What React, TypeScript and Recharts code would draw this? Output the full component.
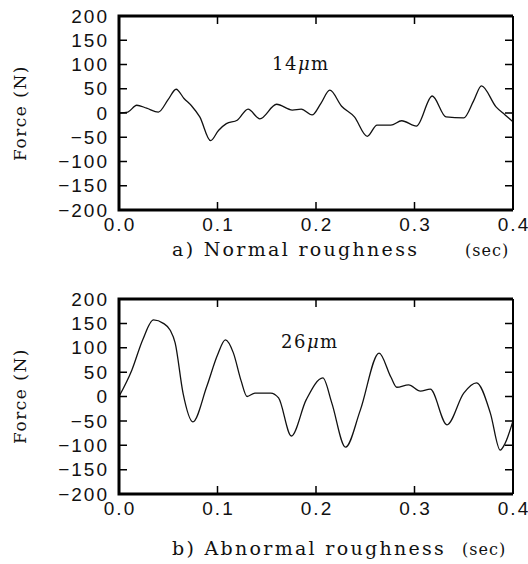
import React from 'react';
import { Line, LineChart, XAxis, YAxis } from 'recharts';

// time (sec) and force (N)
const topTime = [0, 0.009, 0.018, 0.028, 0.04, 0.05, 0.058, 0.066, 0.074, 0.082, 0.093, 0.101, 0.109, 0.12, 0.131, 0.143, 0.16, 0.176, 0.185, 0.196, 0.205, 0.214, 0.226, 0.239, 0.252, 0.262, 0.276, 0.287, 0.302, 0.318, 0.332, 0.35, 0.36, 0.368, 0.383, 0.392, 0.4];
const topForce = [0, 2, 16, 10, 2, 28, 49, 30, 14, -8, -57, -36, -22, -15, 8, -12, 18, 6, 8, -4, 20, 47, 14, -8, -48, -25, -25, -16, -27, 35, -8, -10, 25, 56, 12, -4, -18];

const bottomTime = [0, 0.013, 0.024, 0.035, 0.045, 0.052, 0.057, 0.065, 0.075, 0.089, 0.1, 0.108, 0.116, 0.124, 0.13, 0.138, 0.154, 0.162, 0.175, 0.19, 0.207, 0.216, 0.23, 0.245, 0.264, 0.276, 0.282, 0.294, 0.306, 0.316, 0.333, 0.35, 0.363, 0.377, 0.387, 0.392, 0.4];
const bottomForce = [0, 54, 116, 157, 150, 136, 110, 7, -52, 20, 85, 116, 90, 32, 0, 7, 7, -3, -81, -7, 38, -13, -104, -28, 89, 40, 19, 24, 11, 15, -58, 7, 28, -34, -110, -96, -50];

const xTicks = [0, 0.1, 0.2, 0.3, 0.4];
const yTicks = [-200, -150, -100, -50, 0, 50, 100, 150, 200];

const topData = topTime.map((t, i) => ({ t, f: topForce[i] }));
const bottomData = bottomTime.map((t, i) => ({ t, f: bottomForce[i] }));

const PLOT_LEFT = 119;
const PLOT_RIGHT = 513;
const TICK = 8;

const sansText = { fontFamily: '"Liberation Sans", Arial, sans-serif', fontSize: 19, letterSpacing: 2, fill: '#111' };
const serifText = { fontFamily: '"DejaVu Serif", serif', fill: '#111' };

const fmtX = (v: number) => v.toFixed(1);
const fmtY = (v: number) => String(v).replace('-', '\u2212');

interface PanelSpec {
  top: number;
  bottom: number;
  titleY: number;
  size: string;
  noteX: number;
  noteY: number;
  caption: string;
  captionY: number;
  secX: number;
}

// texts that belong to a panel, drawn in the chart's own svg
const panelTexts = (s: PanelSpec) => (
  <g>
    <text x={20} y={s.titleY} transform={`rotate(-90 20 ${s.titleY})`} textAnchor="middle" dominantBaseline="central" fontSize={17} letterSpacing={1.5} style={serifText}>
      Force (N)
    </text>
    <text x={s.noteX} y={s.noteY} dominantBaseline="central" fontSize={18} letterSpacing={1.5} style={serifText}>
      {s.size}
      <tspan fontStyle="italic">μ</tspan>m
    </text>
    <text x={172} y={s.captionY} dominantBaseline="central" fontSize={19} letterSpacing={2.3} style={serifText}>
      {s.caption}
    </text>
    <text x={s.secX} y={s.captionY + 1} dominantBaseline="central" fontSize={16} letterSpacing={1} style={serifText}>
      (sec)
    </text>
  </g>
);

const frame = (s: PanelSpec) => (
  <g>
    <path d={`M${PLOT_RIGHT},${s.top}H${PLOT_LEFT}V${s.bottom}H${PLOT_RIGHT}`} fill="none" stroke="#000" strokeWidth={3} />
    <path d={`M${PLOT_RIGHT},${s.top}V${s.bottom}`} fill="none" stroke="#000" strokeWidth={2} />
  </g>
);

const makeXTick = (s: PanelSpec) => (props: any) => {
  const { x, index, payload } = props;
  const inner = index > 0 && index < xTicks.length - 1;
  return (
    <g>
      {index === 0 && frame(s)}
      {inner && <path d={`M${x},${s.bottom}v${-TICK}M${x},${s.top}v${TICK}`} stroke="#000" strokeWidth={1.5} />}
      <text x={x + 1} y={s.bottom + 21} textAnchor="middle" style={sansText}>
        {fmtX(payload.value)}
      </text>
    </g>
  );
};

const makeYTick = (s: PanelSpec) => (props: any) => {
  const { y, index, payload } = props;
  const inner = index > 0 && index < yTicks.length - 1;
  return (
    <g>
      {index === 0 && panelTexts(s)}
      {inner && <path d={`M${PLOT_LEFT},${y}h${TICK}M${PLOT_RIGHT},${y}h${-TICK}`} stroke="#000" strokeWidth={1.5} />}
      <text x={109} y={y} dy="0.35em" textAnchor="end" style={sansText}>
        {fmtY(payload.value)}
      </text>
    </g>
  );
};

const topSpec: PanelSpec = { top: 16, bottom: 210, titleY: 113, size: '14', noteX: 272, noteY: 63, caption: 'a) Normal roughness', captionY: 249, secX: 465 };
const bottomSpec: PanelSpec = { top: 17, bottom: 212, titleY: 114, size: '26', noteX: 281, noteY: 59, caption: 'b) Abnormal roughness', captionY: 266, secX: 462 };

const topXTick = makeXTick(topSpec);
const topYTick = makeYTick(topSpec);
const bottomXTick = makeXTick(bottomSpec);
const bottomYTick = makeYTick(bottomSpec);

interface ChartProps {
  data: { t: number; f: number }[];
  spec: PanelSpec;
  xTick: (p: any) => React.ReactElement;
  yTick: (p: any) => React.ReactElement;
}

const Chart = ({ data, spec, xTick, yTick }: ChartProps) => (
  <LineChart width={528} height={282} data={data} margin={{ top: spec.top, right: 528 - PLOT_RIGHT, bottom: 0, left: 0 }}>
    <XAxis dataKey="t" type="number" domain={[0, 0.4]} ticks={xTicks} interval={0} height={282 - spec.bottom} tick={xTick} tickLine={false} axisLine={false} />
    <YAxis type="number" domain={[-200, 200]} ticks={yTicks} interval={0} width={PLOT_LEFT} tick={yTick} tickLine={false} axisLine={false} />
    <Line dataKey="f" type="monotone" stroke="#111" strokeWidth={1.3} dot={false} isAnimationActive={false} />
  </LineChart>
);

export default function App() {
  return (
    <div style={{ position: 'absolute', left: 0, top: 0, width: 528, height: 564 }}>
      <div style={{ position: 'absolute', left: 0, top: 0 }}>
        <Chart data={topData} spec={topSpec} xTick={topXTick} yTick={topYTick} />
      </div>
      <div style={{ position: 'absolute', left: 0, top: 282 }}>
        <Chart data={bottomData} spec={bottomSpec} xTick={bottomXTick} yTick={bottomYTick} />
      </div>
    </div>
  );
}
